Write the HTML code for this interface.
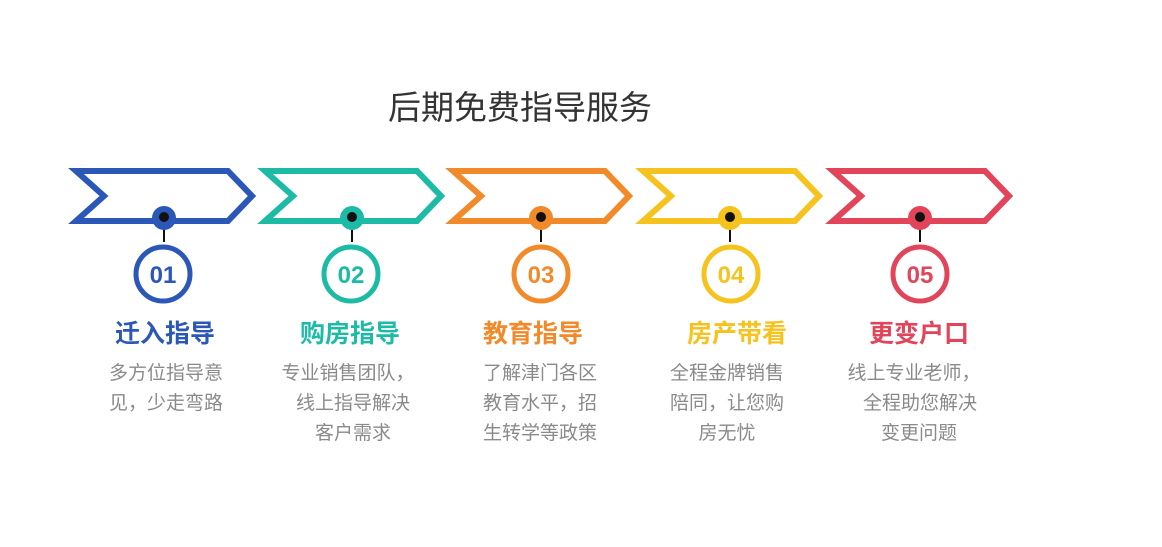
<!DOCTYPE html>
<html><head><meta charset="utf-8"><style>
html,body{margin:0;padding:0;background:#fff;width:1162px;height:547px;overflow:hidden}
svg{display:block}
text{font-family:"Liberation Sans","Noto Sans CJK SC",sans-serif}
.d{font-size:19px;fill:#8a8a8a;text-anchor:middle}
.t{font-size:25px;font-weight:bold;text-anchor:middle}
.n{font-size:24px;font-weight:bold;text-anchor:middle}
</style></head><body>
<svg width="1162" height="547" viewBox="0 0 1162 547">
<text x="388" y="119" style="font-size:33px;fill:#333">后期免费指导服务</text>
<defs>
<g id="chev"><path d="M0,0 L152,0 L176,25 L152,50 L0,50 L28,25 Z" fill="none" stroke-width="6" stroke-linejoin="miter" stroke-miterlimit="3"/></g>
</defs>
<g>
<use href="#chev" x="76" y="171" stroke="#2B57B8"/>
<use href="#chev" x="265" y="171" stroke="#1BBBA6"/>
<use href="#chev" x="453" y="171" stroke="#F28A2A"/>
<use href="#chev" x="643" y="171" stroke="#F6C21E"/>
<use href="#chev" x="833" y="171" stroke="#E2445A"/>
</g>
<g stroke-width="5" fill="none">
<circle cx="163" cy="274" r="27" stroke="#2B57B8"/>
<circle cx="351" cy="274" r="27" stroke="#1BBBA6"/>
<circle cx="541" cy="274" r="27" stroke="#F28A2A"/>
<circle cx="731" cy="274" r="27" stroke="#F6C21E"/>
<circle cx="920" cy="274" r="27" stroke="#E2445A"/>
</g>
<g stroke="#111" stroke-width="2">
<line x1="164" y1="218" x2="164" y2="242"/>
<line x1="352" y1="218" x2="352" y2="242"/>
<line x1="541" y1="218" x2="541" y2="242"/>
<line x1="730" y1="218" x2="730" y2="242"/>
<line x1="920" y1="218" x2="920" y2="242"/>
</g>
<circle cx="164" cy="218" r="12" fill="#2B57B8"/><circle cx="164" cy="217" r="5" fill="#111"/>
<circle cx="352" cy="218" r="12" fill="#1BBBA6"/><circle cx="352" cy="217" r="5" fill="#111"/>
<circle cx="541" cy="218" r="12" fill="#F28A2A"/><circle cx="541" cy="217" r="5" fill="#111"/>
<circle cx="730" cy="218" r="12" fill="#F6C21E"/><circle cx="730" cy="217" r="5" fill="#111"/>
<circle cx="920" cy="218" r="12" fill="#E2445A"/><circle cx="920" cy="217" r="5" fill="#111"/>
<text class="n" x="163" y="283" fill="#2B57B8">01</text>
<text class="n" x="351" y="283" fill="#1BBBA6">02</text>
<text class="n" x="541" y="283" fill="#F28A2A">03</text>
<text class="n" x="731" y="283" fill="#F6C21E">04</text>
<text class="n" x="920" y="283" fill="#E2445A">05</text>
<text class="t" x="165" y="342" fill="#2B57B8">迁入指导</text>
<text class="t" x="350" y="342" fill="#1BBBA6">购房指导</text>
<text class="t" x="533" y="342" fill="#F28A2A">教育指导</text>
<text class="t" x="737" y="342" fill="#F6C21E">房产带看</text>
<text class="t" x="919" y="342" fill="#E2445A">更变户口</text>
<text class="d" x="166" y="379">多方位指导意</text>
<text class="d" x="166" y="409">见，少走弯路</text>
<text class="d" x="348" y="379">专业销售团队，</text>
<text class="d" x="353" y="409">线上指导解决</text>
<text class="d" x="353" y="439">客户需求</text>
<text class="d" x="540" y="379">了解津门各区</text>
<text class="d" x="540" y="409">教育水平，招</text>
<text class="d" x="540" y="439">生转学等政策</text>
<text class="d" x="727" y="379">全程金牌销售</text>
<text class="d" x="727" y="409">陪同，让您购</text>
<text class="d" x="727" y="439">房无忧</text>
<text class="d" x="914" y="379">线上专业老师，</text>
<text class="d" x="920" y="409">全程助您解决</text>
<text class="d" x="919" y="439">变更问题</text>
</svg>
</body></html>
